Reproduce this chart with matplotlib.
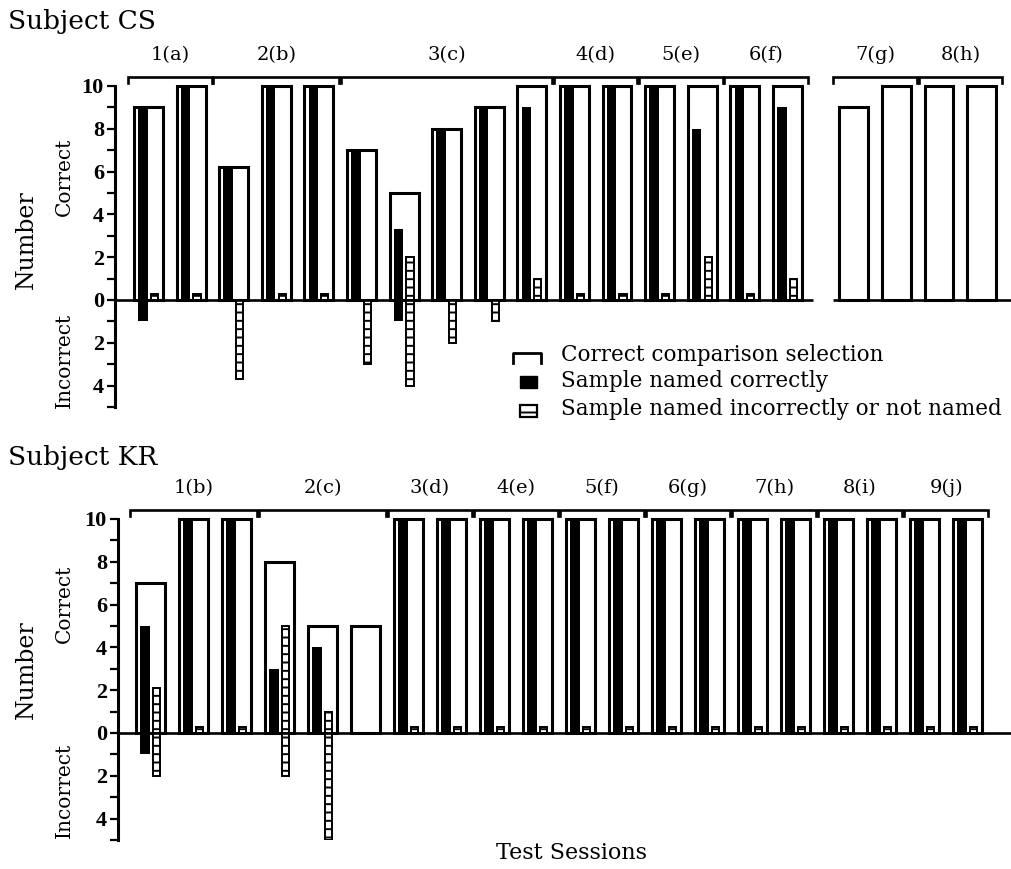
import numpy as np
import matplotlib
matplotlib.use("Agg")
import matplotlib.pyplot as plt
from matplotlib.patches import Rectangle

plt.rcParams["font.family"] = ["DejaVu Serif"]
plt.rcParams["hatch.linewidth"] = 1.4

nan = np.nan

# --- Subject CS ------------------------------------------------------
cs_sessions = ["1(a)", "2(b)", "3(c)", "4(d)", "5(e)", "6(f)", "7(g)", "8(h)"]
cs_group_sizes = [2, 3, 5, 2, 2, 2, 2, 2]
cs_correct = [9, 10, 6.2, 10, 10, 7, 5, 8, 9, 10, 10, 10, 10, 10, 10, 10, 9, 10, 10, 10]
cs_named_ok = [9, 10, 6.2, 10, 10, 7, 3.3, 8, 9, 9, 10, 10, 10, 8, 10, 9, nan, nan, nan, nan]
cs_named_ok_err = [-1, 0, 0, 0, 0, 0, -1, 0, 0, 0, 0, 0, 0, 0, 0, 0, 0, 0, 0, 0]
cs_named_bad = [0, 0, nan, 0, 0, nan, 2, nan, nan, 1, 0, 0, 0, 2, 0, 1, nan, nan, nan, nan]
cs_named_bad_err = [0, 0, -3.7, 0, 0, -3, -4, -2, -1, 0, 0, 0, 0, 0, 0, 0, 0, 0, 0, 0]

# --- Subject KR ------------------------------------------------------
kr_sessions = ["1(b)", "2(c)", "3(d)", "4(e)", "5(f)", "6(g)", "7(h)", "8(i)", "9(j)"]
kr_group_sizes = [3, 3, 2, 2, 2, 2, 2, 2, 2]
kr_correct = [7, 10, 10, 8, 5, 5, 10, 10, 10, 10, 10, 10, 10, 10, 10, 10, 10, 10, 10, 10]
kr_named_ok = [5, 10, 10, 3, 4, nan, 10, 10, 10, 10, 10, 10, 10, 10, 10, 10, 10, 10, 10, 10]
kr_named_ok_err = [-1, 0, 0, 0, 0, 0, 0, 0, 0, 0, 0, 0, 0, 0, 0, 0, 0, 0, 0, 0]
kr_named_bad = [2.1, 0, 0, 5, 1, nan, 0, 0, 0, 0, 0, 0, 0, 0, 0, 0, 0, 0, 0, 0]
kr_named_bad_err = [-2, 0, 0, -2, -5, 0, 0, 0, 0, 0, 0, 0, 0, 0, 0, 0, 0, 0, 0, 0]

W, H = 1011, 869
OPEN_W, OK_OFF, OK_W, BAD_OFF, BAD_W = 0.68, -0.13, 0.22, 0.14, 0.17
STUB = 0.3


def positions(group_sizes, gaps):
    pos, x = [], 0.0
    for g, n in enumerate(group_sizes):
        x += gaps.get(g, 0.0)
        for _ in range(n):
            pos.append(x)
            x += 1
    return np.array(pos)


def px_axes(fig, left, right, top, bottom):
    return fig.add_axes([left / W, 1 - bottom / H, (right - left) / W, (bottom - top) / H])


def draw_panel(ax, sessions, sizes, pos, correct, ok, ok_err, bad, bad_err, baseline_segments):
    ax.bar(pos, correct, width=OPEN_W, facecolor="white", edgecolor="black", linewidth=2.2, zorder=2)
    ok = np.array(ok, dtype=float)
    ax.bar(pos + OK_OFF, np.nan_to_num(ok), width=OK_W, color="black", linewidth=0, zorder=3)
    ax.bar(pos + OK_OFF, ok_err, width=OK_W, color="black", linewidth=0, zorder=3)
    bad = np.array(bad, dtype=float)
    bad_h = np.where(bad == 0, STUB, bad)
    keep = ~np.isnan(bad_h)
    ax.bar(pos[keep] + BAD_OFF, bad_h[keep], width=BAD_W, facecolor="white", edgecolor="black",
           linewidth=1.4, hatch="--", zorder=3)
    bad_err = np.array(bad_err, dtype=float)
    neg = bad_err < 0
    ax.bar(pos[neg] + BAD_OFF, bad_err[neg], width=BAD_W, facecolor="white", edgecolor="black",
           linewidth=1.4, hatch="--", zorder=3)

    for x0, x1 in baseline_segments:
        ax.plot([x0, x1], [0, 0], color="black", lw=1.9, zorder=4, clip_on=False,
                solid_capstyle="butt")

    # session brackets
    start = 0
    for name, n in zip(sessions, sizes):
        a, b = pos[start] - 0.48, pos[start + n - 1] + 0.48
        ax.plot([a, a, b, b], [10.12, 10.42, 10.42, 10.12], color="black", lw=1.9,
                clip_on=False, solid_joinstyle="miter")
        ax.text((a + b) / 2, 11.45, name, ha="center", va="center", fontsize=14)
        start += n

    ax.set_ylim(-5.0, 10.28)
    ax.set_yticks(range(-5, 11))
    ax.set_yticklabels([str(abs(v)) if v % 2 == 0 else "" for v in range(-5, 11)],
                       family="Liberation Serif", fontweight="bold", fontsize=16)
    ax.tick_params(axis="y", length=6, width=1.6, direction="out", pad=2)
    ax.tick_params(axis="x", length=0, labelbottom=False)
    for s in ["top", "right", "bottom"]:
        ax.spines[s].set_visible(False)
    ax.spines["left"].set_linewidth(2.2)
    ax.spines["left"].set_bounds(-5, 10)
    ax.patch.set_alpha(0)


fig = plt.figure(figsize=(W / 100, H / 100), dpi=100)

ov = fig.add_axes([0, 0, 1, 1])
ov.set_xlim(0, W)
ov.set_ylim(H, 0)
ov.axis("off")

# top panel
cs_pos = positions(cs_group_sizes, {6: 0.56})
ax1 = px_axes(fig, 115, W, 80, 407)
ax1.set_xlim(-0.786, 20.25)
draw_panel(ax1, cs_sessions, cs_group_sizes, cs_pos, cs_correct, cs_named_ok, cs_named_ok_err,
           cs_named_bad, cs_named_bad_err,
           [(-0.786, cs_pos[15] + 0.6), (cs_pos[16] - 0.5, 20.25)])

# bottom panel
kr_pos = positions(kr_group_sizes, {})
ax2 = px_axes(fig, 118, W, 513, 840)
ax2.set_xlim(-0.756, 20.01)
draw_panel(ax2, kr_sessions, kr_group_sizes, kr_pos, kr_correct, kr_named_ok, kr_named_ok_err,
           kr_named_bad, kr_named_bad_err, [(-0.756, 20.0)])

# titles and axis words
ov.text(8, 22, "Subject CS", fontsize=19, ha="left", va="center")
ov.text(8, 457, "Subject KR", fontsize=19, ha="left", va="center")
for yc, yi, yn in [(177, 360, 240), (604, 790, 670)]:
    ov.text(26, yn, "Number", fontsize=17, rotation=90, ha="center", va="center")
    ov.text(64, yc, "Correct", fontsize=14.5, rotation=90, ha="center", va="center")
    ov.text(64, yi, "Incorrect", fontsize=14.5, rotation=90, ha="center", va="center")
ov.text(572, 853, "Test Sessions", fontsize=16, ha="center", va="center")

# legend
ov.plot([513, 513, 541, 541], [363, 353, 353, 363], color="black", lw=2.0)
ov.add_patch(Rectangle((520, 376), 17, 12, facecolor="black", edgecolor="black"))
ov.add_patch(Rectangle((520, 405), 17, 12, facecolor="white", edgecolor="black", lw=1.6, hatch="--"))
ov.text(561, 355, "Correct comparison selection", fontsize=15.5, va="center")
ov.text(561, 381, "Sample named correctly", fontsize=15.5, va="center")
ov.text(561, 409, "Sample named incorrectly or not named", fontsize=15.5, va="center")

fig.savefig("out.png", dpi=100)
